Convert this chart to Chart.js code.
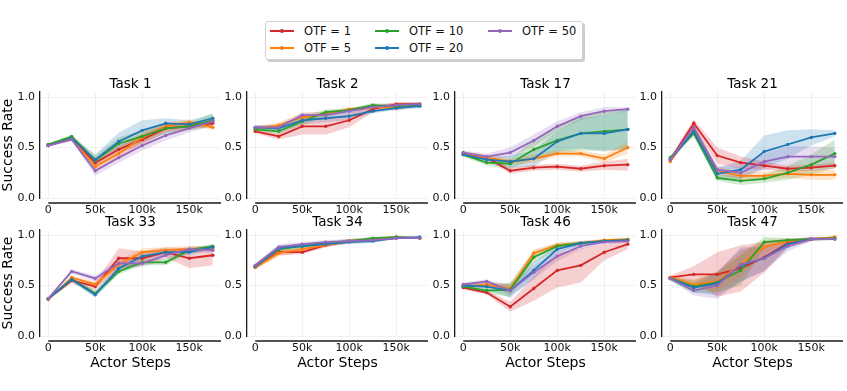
<!DOCTYPE html>
<html lang="en">
  <head>
    <meta charset="UTF-8" />
    <title>OTF sweep</title>
    <script src="https://cdn.jsdelivr.net/npm/chart.js@4.4.1/dist/chart.umd.min.js"></script>
    <style>
      html, body { margin: 0; padding: 0; background: #fff; }
      #fig { position: relative; width: 847px; height: 391px; overflow: hidden; font-family: "DejaVu Sans", sans-serif; }
      #fig canvas { position: absolute; }
      #legend {
        position: absolute; left: 265px; top: 21px; width: 316px; height: 37px;
        border: 1px solid #d0d0d0; border-radius: 3px; background: #fff;
        box-shadow: 2px 2px 0 rgba(0, 0, 0, 0.2);
      }
      .entry { position: absolute; height: 16px; line-height: 16px; font-size: 11.5px; color: #111; white-space: nowrap; }
      .swatch { position: absolute; left: 0; top: 7px; width: 24px; height: 1.8px; }
      .swatch i { position: absolute; left: 10px; top: -1.1px; width: 4px; height: 4px; border-radius: 50%; }
      .entry span { position: absolute; left: 34px; top: 0; }
    </style>
  </head>
  <body>
    <div id="fig">
      <div id="legend"></div>
    </div>
    <script>
      const STEPS = [0, 25000, 50000, 75000, 100000, 125000, 150000, 175000];
      const OTF_NAMES = ["OTF = 1", "OTF = 5", "OTF = 10", "OTF = 20", "OTF = 50"];
      const OTF_COLORS = ["#d62728", "#ff7f0e", "#2ca02c", "#1f77b4", "#9467bd"];
      const TASK_NAMES = ["Task 1", "Task 2", "Task 17", "Task 21", "Task 33", "Task 34", "Task 46", "Task 47"];
      const Y_TICKS = [0, 0.5, 1.0];
      const X_TICKS = [0, 50000, 100000, 150000];

      // rows: OTF = 1, 5, 10, 20, 50 ; mean success rate and band half-width
      const task1Mean = [
        [0.52, 0.59, 0.35, 0.48, 0.58, 0.69, 0.71, 0.74],
        [0.53, 0.59, 0.31, 0.44, 0.60, 0.71, 0.75, 0.70],
        [0.53, 0.61, 0.37, 0.54, 0.61, 0.69, 0.71, 0.77],
        [0.52, 0.59, 0.38, 0.56, 0.67, 0.74, 0.73, 0.79],
        [0.52, 0.58, 0.27, 0.40, 0.52, 0.62, 0.69, 0.76],
      ];
      const task1Spread = [
        [0.01, 0.02, 0.04, 0.04, 0.05, 0.04, 0.03, 0.03],
        [0.01, 0.02, 0.04, 0.05, 0.05, 0.04, 0.03, 0.03],
        [0.01, 0.02, 0.05, 0.06, 0.06, 0.05, 0.04, 0.07],
        [0.01, 0.02, 0.05, 0.09, 0.10, 0.05, 0.04, 0.04],
        [0.01, 0.02, 0.05, 0.05, 0.05, 0.05, 0.04, 0.04],
      ];
      const task2Mean = [
        [0.66, 0.61, 0.71, 0.71, 0.77, 0.88, 0.93, 0.93],
        [0.69, 0.72, 0.80, 0.83, 0.88, 0.90, 0.89, 0.93],
        [0.68, 0.66, 0.76, 0.85, 0.87, 0.92, 0.91, 0.92],
        [0.70, 0.69, 0.77, 0.79, 0.81, 0.86, 0.89, 0.91],
        [0.70, 0.70, 0.82, 0.82, 0.86, 0.90, 0.92, 0.93],
      ];
      const task2Spread = [
        [0.02, 0.03, 0.08, 0.08, 0.07, 0.03, 0.02, 0.02],
        [0.02, 0.03, 0.04, 0.03, 0.02, 0.02, 0.02, 0.02],
        [0.02, 0.03, 0.04, 0.03, 0.02, 0.02, 0.02, 0.02],
        [0.02, 0.03, 0.04, 0.04, 0.04, 0.02, 0.02, 0.02],
        [0.02, 0.03, 0.03, 0.03, 0.02, 0.02, 0.02, 0.02],
      ];
      const task17Mean = [
        [0.44, 0.40, 0.27, 0.30, 0.31, 0.29, 0.32, 0.33],
        [0.44, 0.40, 0.36, 0.39, 0.44, 0.44, 0.39, 0.50],
        [0.43, 0.35, 0.34, 0.48, 0.57, 0.64, 0.66, 0.68],
        [0.43, 0.38, 0.36, 0.39, 0.56, 0.64, 0.64, 0.68],
        [0.45, 0.41, 0.45, 0.57, 0.71, 0.81, 0.86, 0.88],
      ];
      const task17Spread = [
        [0.02, 0.02, 0.03, 0.03, 0.03, 0.03, 0.04, 0.06],
        [0.02, 0.03, 0.03, 0.04, 0.03, 0.03, 0.04, 0.06],
        [0.02, 0.03, 0.05, 0.10, 0.14, 0.17, 0.19, 0.20],
        [0.02, 0.03, 0.06, 0.08, 0.10, 0.15, 0.18, 0.19],
        [0.02, 0.03, 0.05, 0.06, 0.05, 0.04, 0.04, 0.02],
      ];
      const task21Mean = [
        [0.38, 0.74, 0.42, 0.35, 0.32, 0.29, 0.30, 0.32],
        [0.36, 0.69, 0.27, 0.22, 0.22, 0.24, 0.23, 0.23],
        [0.40, 0.64, 0.20, 0.17, 0.19, 0.25, 0.33, 0.44],
        [0.38, 0.66, 0.24, 0.28, 0.46, 0.53, 0.60, 0.64],
        [0.38, 0.70, 0.28, 0.25, 0.36, 0.41, 0.41, 0.41],
      ];
      const task21Spread = [
        [0.02, 0.04, 0.08, 0.06, 0.04, 0.03, 0.03, 0.03],
        [0.02, 0.03, 0.04, 0.04, 0.04, 0.04, 0.05, 0.05],
        [0.02, 0.03, 0.03, 0.04, 0.04, 0.07, 0.10, 0.14],
        [0.02, 0.03, 0.06, 0.09, 0.16, 0.14, 0.08, 0.03],
        [0.02, 0.03, 0.04, 0.06, 0.08, 0.10, 0.10, 0.09],
      ];
      const task33Mean = [
        [0.37, 0.55, 0.49, 0.77, 0.77, 0.83, 0.77, 0.80],
        [0.36, 0.58, 0.51, 0.71, 0.83, 0.85, 0.86, 0.87],
        [0.37, 0.56, 0.42, 0.64, 0.73, 0.73, 0.85, 0.89],
        [0.37, 0.56, 0.41, 0.67, 0.79, 0.83, 0.83, 0.88],
        [0.37, 0.64, 0.57, 0.72, 0.72, 0.80, 0.86, 0.85],
      ];
      const task33Spread = [
        [0.01, 0.03, 0.04, 0.10, 0.07, 0.05, 0.10, 0.10],
        [0.01, 0.02, 0.03, 0.04, 0.04, 0.03, 0.03, 0.02],
        [0.01, 0.02, 0.03, 0.03, 0.03, 0.03, 0.03, 0.02],
        [0.01, 0.02, 0.03, 0.04, 0.03, 0.03, 0.03, 0.02],
        [0.01, 0.02, 0.03, 0.04, 0.04, 0.04, 0.03, 0.03],
      ];
      const task34Mean = [
        [0.68, 0.83, 0.83, 0.90, 0.94, 0.96, 0.97, 0.97],
        [0.68, 0.82, 0.86, 0.90, 0.94, 0.96, 0.98, 0.97],
        [0.69, 0.86, 0.89, 0.92, 0.94, 0.97, 0.98, 0.97],
        [0.69, 0.87, 0.89, 0.91, 0.93, 0.94, 0.97, 0.98],
        [0.70, 0.88, 0.91, 0.93, 0.94, 0.95, 0.97, 0.97],
      ];
      const task34Spread = [
        [0.02, 0.03, 0.02, 0.02, 0.02, 0.01, 0.01, 0.01],
        [0.02, 0.03, 0.03, 0.02, 0.02, 0.01, 0.01, 0.01],
        [0.02, 0.03, 0.02, 0.02, 0.02, 0.01, 0.01, 0.01],
        [0.02, 0.03, 0.02, 0.02, 0.02, 0.02, 0.01, 0.01],
        [0.02, 0.03, 0.02, 0.02, 0.02, 0.01, 0.01, 0.01],
      ];
      const task46Mean = [
        [0.48, 0.43, 0.29, 0.47, 0.65, 0.70, 0.83, 0.91],
        [0.49, 0.51, 0.47, 0.82, 0.90, 0.92, 0.95, 0.96],
        [0.49, 0.45, 0.46, 0.78, 0.89, 0.92, 0.94, 0.95],
        [0.50, 0.49, 0.45, 0.65, 0.86, 0.92, 0.94, 0.95],
        [0.51, 0.54, 0.45, 0.63, 0.79, 0.89, 0.93, 0.94],
      ];
      const task46Spread = [
        [0.02, 0.02, 0.05, 0.12, 0.17, 0.17, 0.08, 0.05],
        [0.02, 0.02, 0.05, 0.04, 0.02, 0.02, 0.01, 0.01],
        [0.02, 0.03, 0.07, 0.06, 0.03, 0.02, 0.01, 0.01],
        [0.02, 0.03, 0.07, 0.08, 0.04, 0.02, 0.01, 0.01],
        [0.02, 0.02, 0.05, 0.07, 0.05, 0.03, 0.02, 0.02],
      ];
      const task47Mean = [
        [0.58, 0.61, 0.61, 0.67, 0.78, 0.92, 0.96, 0.97],
        [0.58, 0.51, 0.54, 0.71, 0.88, 0.94, 0.96, 0.98],
        [0.57, 0.49, 0.53, 0.65, 0.93, 0.95, 0.96, 0.97],
        [0.57, 0.48, 0.52, 0.70, 0.77, 0.91, 0.96, 0.96],
        [0.57, 0.45, 0.50, 0.71, 0.77, 0.89, 0.96, 0.96],
      ];
      const task47Spread = [
        [0.02, 0.08, 0.22, 0.23, 0.15, 0.04, 0.02, 0.01],
        [0.02, 0.05, 0.10, 0.12, 0.07, 0.03, 0.01, 0.01],
        [0.02, 0.06, 0.10, 0.15, 0.05, 0.02, 0.01, 0.01],
        [0.02, 0.05, 0.12, 0.16, 0.12, 0.04, 0.02, 0.01],
        [0.02, 0.05, 0.13, 0.17, 0.13, 0.05, 0.02, 0.01],
      ];

      const TASK_MEANS = [task1Mean, task2Mean, task17Mean, task21Mean, task33Mean, task34Mean, task46Mean, task47Mean];
      const TASK_SPREADS = [task1Spread, task2Spread, task17Spread, task21Spread, task33Spread, task34Spread, task46Spread, task47Spread];

      // layout (px)
      const COL_LEFT = [40, 247, 455, 662];
      const ROW_TOP = [92, 230];
      const PLOT_W = 181, PLOT_H = 106;
      const Y_W = 40, X_H = 36, TITLE_H = 14;
      const TEXT = "#111";

      Chart.defaults.font.family = "'DejaVu Sans', sans-serif";
      Chart.defaults.color = TEXT;

      function rgba(hex, a) {
        const n = parseInt(hex.slice(1), 16);
        return `rgba(${(n >> 16) & 255}, ${(n >> 8) & 255}, ${n & 255}, ${a})`;
      }

      // seaborn-like bottom spine, pushed a few px below the plot
      const offsetSpine = {
        id: "offsetSpine",
        afterDraw(chart) {
          const { ctx, chartArea, scales } = chart;
          const y = chartArea.bottom + 5;
          ctx.save();
          ctx.strokeStyle = "#1a1a1a";
          ctx.lineWidth = 1.3;
          ctx.beginPath();
          ctx.moveTo(scales.x.getPixelForValue(0), y);
          ctx.lineTo(chartArea.right, y);
          ctx.stroke();
          ctx.restore();
        },
      };

      const fig = document.getElementById("fig");

      // legend, column-major like matplotlib ncol=3
      const legend = document.getElementById("legend");
      const LEG_COL_X = [4, 109, 222];
      const LEG_ROW_Y = [1, 18];
      OTF_NAMES.forEach((name, i) => {
        const e = document.createElement("div");
        e.className = "entry";
        e.style.left = LEG_COL_X[Math.floor(i / 2)] + "px";
        e.style.top = LEG_ROW_Y[i % 2] + "px";
        e.innerHTML = `<div class="swatch" style="background:${OTF_COLORS[i]}"><i style="background:${OTF_COLORS[i]}"></i></div><span>${name}</span>`;
        legend.appendChild(e);
      });

      TASK_NAMES.forEach((task, t) => {
        const row = Math.floor(t / 4), col = t % 4;
        const canvas = document.createElement("canvas");
        canvas.width = Y_W + PLOT_W + 4;
        canvas.height = TITLE_H + PLOT_H + X_H;
        canvas.style.left = COL_LEFT[col] - Y_W + "px";
        canvas.style.top = ROW_TOP[row] - TITLE_H + "px";
        fig.appendChild(canvas);

        const means = TASK_MEANS[t], spreads = TASK_SPREADS[t];
        const datasets = [];
        means.forEach((m, s) => {
          datasets.push({
            data: STEPS.map((x, k) => ({ x, y: m[k] - spreads[s][k] })),
            borderWidth: 0, pointRadius: 0, fill: false, order: 20,
          });
          datasets.push({
            data: STEPS.map((x, k) => ({ x, y: m[k] + spreads[s][k] })),
            borderWidth: 0, pointRadius: 0, fill: "-1", order: 20,
            backgroundColor: rgba(OTF_COLORS[s], 0.22),
          });
        });
        means.forEach((m, s) => {
          datasets.push({
            label: OTF_NAMES[s],
            data: STEPS.map((x, k) => ({ x, y: m[k] })),
            borderColor: OTF_COLORS[s],
            backgroundColor: OTF_COLORS[s],
            borderWidth: 1.8,
            pointRadius: 1.7,
            pointBorderWidth: 0,
            fill: false,
            order: 4 - s,
          });
        });

        new Chart(canvas, {
          type: "line",
          data: { datasets },
          plugins: [offsetSpine],
          options: {
            responsive: false,
            animation: false,
            events: [],
            layout: { padding: { left: 0, right: 4, top: 0, bottom: 0 } },
            plugins: {
              legend: { display: false },
              tooltip: { enabled: false },
              filler: { drawTime: "beforeDatasetsDraw" },
              title: {
                display: true,
                text: task,
                fullSize: false,
                color: "#000",
                font: { size: 13.5, weight: "normal", lineHeight: 1 },
                padding: { top: 0, bottom: 0.5 },
              },
            },
            scales: {
              x: {
                type: "linear",
                min: -8750,
                max: 183750,
                afterBuildTicks: (s) => { s.ticks = X_TICKS.map((v) => ({ value: v })); },
                afterFit: (s) => { s.height = X_H; },
                grid: { color: "rgba(0,0,0,0.07)", lineWidth: 0.8, drawTicks: false },
                border: { display: false },
                ticks: {
                  padding: 6,
                  font: { size: 11 },
                  callback: (v) => (v === 0 ? "0" : v / 1000 + "k"),
                },
                title: {
                  display: row === 1,
                  text: "Actor Steps",
                  color: "#000",
                  font: { size: 14, lineHeight: 1 },
                  padding: { top: 0, bottom: 2 },
                },
              },
              y: {
                min: 0,
                max: 1.05,
                afterBuildTicks: (s) => { s.ticks = Y_TICKS.map((v) => ({ value: v })); },
                afterFit: (s) => { s.width = Y_W; },
                grid: { color: "rgba(0,0,0,0.07)", lineWidth: 0.8, drawTicks: false },
                border: { display: true, color: "#1a1a1a", width: 1.3 },
                ticks: {
                  padding: 5,
                  font: { size: 11 },
                  callback: (v) => v.toFixed(1),
                },
                title: {
                  display: col === 0,
                  text: "Success Rate",
                  color: "#000",
                  font: { size: 14, lineHeight: 1 },
                  padding: { top: 1.5, bottom: 0 },
                },
              },
            },
          },
        });
      });
    </script>
  </body>
</html>
